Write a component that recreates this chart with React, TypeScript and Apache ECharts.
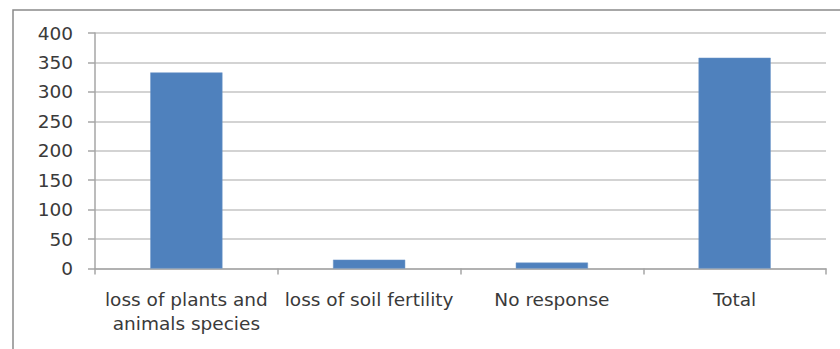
import React, { useEffect, useRef } from "react";
import * as echarts from "echarts";

const categories = [
  "loss of plants and\nanimals species",
  "loss of soil fertility",
  "No response",
  "Total",
];
const counts = [333, 15, 10, 358];
const yMin = 0;
const yMax = 400;
const yStep = 50;

export default function App() {
  const ref = useRef<HTMLDivElement>(null);

  useEffect(() => {
    if (!ref.current) return;
    const chart = echarts.init(ref.current, null, { renderer: "svg" });
    const font = "'DejaVu Sans', sans-serif";
    chart.setOption({
      animation: false,
      backgroundColor: "#ffffff",
      graphic: [
        {
          type: "rect",
          shape: { x: 13, y: 10, width: 840, height: 360 },
          style: { fill: "none", stroke: "#8a8a8a", lineWidth: 1.5 },
          silent: true,
        },
      ],
      grid: { left: 95, right: 14, top: 33, bottom: 80.5 },
      xAxis: {
        type: "category",
        data: categories,
        axisLine: { lineStyle: { color: "#a6a6a6", width: 1.5 } },
        axisTick: { show: true, length: 6, lineStyle: { color: "#a6a6a6", width: 1.5 } },
        axisLabel: {
          color: "#3a3a3a",
          fontFamily: font,
          fontSize: 18.5,
          lineHeight: 24,
          margin: 19,
          interval: 0,
        },
      },
      yAxis: {
        type: "value",
        min: yMin,
        max: yMax,
        interval: yStep,
        axisLine: { show: true, lineStyle: { color: "#a6a6a6", width: 1.5 } },
        axisTick: { show: true, length: 7, lineStyle: { color: "#a6a6a6", width: 1.5 } },
        splitLine: { lineStyle: { color: "#c4c4c4", width: 1.5 } },
        axisLabel: {
          color: "#3a3a3a",
          fontFamily: font,
          fontSize: 18.5,
          margin: 22,
        },
      },
      series: [
        {
          type: "bar",
          data: counts,
          barWidth: "39.5%",
          itemStyle: { color: "#4f81bd", borderColor: "#6d96c9", borderWidth: 0.5 },
        },
      ],
    });
    return () => chart.dispose();
  }, []);

  return (
    <div
      ref={ref}
      style={{ position: "fixed", left: 0, top: 0, width: 840, height: 349 }}
    />
  );
}
